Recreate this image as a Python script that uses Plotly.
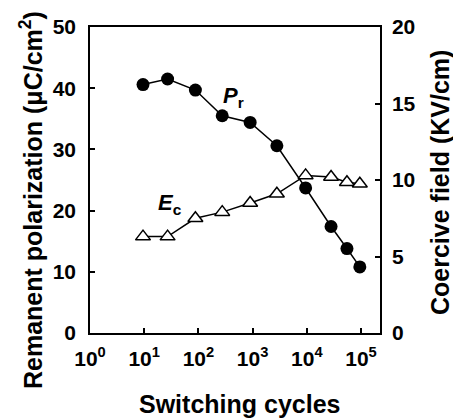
import plotly.graph_objects as go

cycles = [9.5, 27, 88, 275, 900, 2800, 9500, 28000, 55000, 95000]
pr_values = [40.6, 41.5, 39.7, 35.5, 34.4, 30.6, 23.7, 17.4, 13.8, 10.8]
ec_values = [6.3, 6.3, 7.5, 7.9, 8.5, 9.1, 10.3, 10.2, 9.85, 9.75]
x_tickvals = [1, 10, 100, 1000, 10000, 100000]
x_ticktext = ["<b>10<sup>%d</sup></b>" % i for i in range(6)]
left_ticks = [0, 10, 20, 30, 40, 50]
right_ticks = [0, 5, 10, 15, 20]

FONT = "Liberation Sans, Arial, sans-serif"
W, H = 453, 420
L, R, T, B = 90, 73, 27, 87
pw, ph = W - L - R, H - T - B

def px(x):
    return (x - L) / pw

def py(y):
    return (H - B - y) / ph

fig = go.Figure()
fig.add_trace(go.Scatter(
    x=cycles, y=pr_values, mode="lines+markers",
    line=dict(color="black", width=1.5),
    marker=dict(symbol="circle", size=13, color="black"),
    showlegend=False))
fig.add_trace(go.Scatter(
    x=cycles, y=ec_values, mode="lines+markers", yaxis="y2",
    line=dict(color="black", width=1.5),
    marker=dict(symbol="triangle-up", size=13, color="white",
                line=dict(color="black", width=1.5)),
    showlegend=False))

tickfont = dict(family=FONT, size=21, color="black")
fig.update_layout(
    width=W, height=H,
    margin=dict(l=L, r=R, t=T, b=B),
    paper_bgcolor="white", plot_bgcolor="white",
    xaxis=dict(type="log", range=[0, 5.35], tickvals=x_tickvals, ticktext=x_ticktext,
               ticks="inside", ticklen=5, tickwidth=1.5, tickcolor="black",
               showline=True, linecolor="black", linewidth=1.5, mirror=True,
               showgrid=False, zeroline=False, tickfont=tickfont, ticklabelstandoff=6),
    yaxis=dict(range=[0, 50], tickvals=left_ticks,
               ticktext=["<b>%d</b>" % v for v in left_ticks],
               ticks="inside", ticklen=5, tickwidth=1.5, tickcolor="black",
               showline=True, linecolor="black", linewidth=1.5,
               showgrid=False, zeroline=False, tickfont=tickfont, ticklabelstandoff=8),
    yaxis2=dict(range=[0, 20], tickvals=right_ticks, overlaying="y", side="right",
                ticktext=["<b>%d</b>" % v for v in right_ticks],
                ticks="inside", ticklen=5, tickwidth=1.5, tickcolor="black",
                showline=True, linecolor="black", linewidth=1.5,
                showgrid=False, zeroline=False, tickfont=tickfont, ticklabelstandoff=6),
)

titlefont = dict(family=FONT, size=25, color="black")
ann = [
    dict(text="<b>Remanent polarization (μC/cm<sup>2</sup>)</b>", x=px(31), y=py(200), textangle=-90),
    dict(text="<b>Coercive field (KV/cm)</b>", x=px(440), y=py(183), textangle=-90),
    dict(text="<b>Switching cycles</b>", x=px(239), y=py(404)),
]
for a in ann:
    fig.add_annotation(xref="paper", yref="paper", showarrow=False,
                       xanchor="center", yanchor="middle", font=titlefont, **a)

labfont = dict(family=FONT, size=22, color="black")
fig.add_annotation(text="<b><i>P</i><sub>r</sub></b>", xref="paper", yref="paper",
                   x=px(233), y=py(81), showarrow=False, font=labfont)
fig.add_annotation(text="<b><i>E</i><sub>c</sub></b>", xref="paper", yref="paper",
                   x=px(156), y=py(204), showarrow=False, font=labfont)

fig.write_html("out.html")
